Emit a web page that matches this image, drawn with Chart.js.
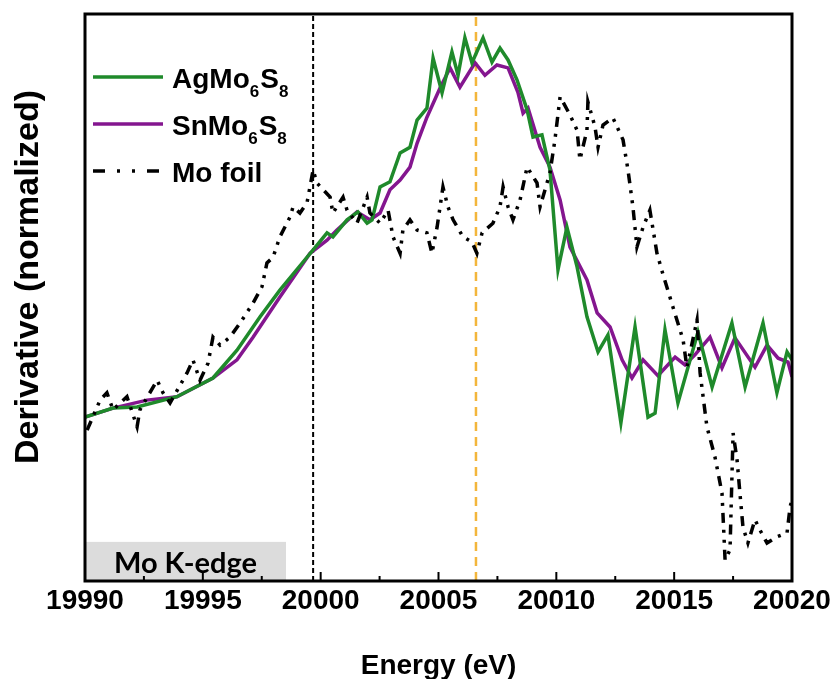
<!DOCTYPE html>
<html>
<head>
<meta charset="utf-8">
<title>Mo K-edge derivative</title>
<script src="https://cdn.jsdelivr.net/npm/chart.js@4/dist/chart.umd.min.js"></script>
<style>
  html, body { margin: 0; padding: 0; background: #fff; }
  #wrap { width: 835px; height: 679px; }
</style>
</head>
<body>
<div id="wrap"><canvas id="chart" width="835" height="679"></canvas></div>
<script>
// ── data (energy in eV, derivative normalized 0–1) ──
const agEnergy = [19990.00, 19991.19, 19992.21, 19993.90, 19995.43, 19996.45, 19997.43, 19998.27, 19999.42, 19999.68,
  20000.27, 20000.52, 20001.12, 20001.58, 20001.97, 20002.18, 20002.52, 20002.94, 20003.37, 20003.79,
  20004.09, 20004.51, 20004.77, 20005.15, 20005.57, 20005.83, 20006.12, 20006.42, 20006.89, 20007.27,
  20007.61, 20007.95, 20008.33, 20008.76, 20009.01, 20009.39, 20009.73, 20010.07, 20010.45, 20010.88,
  20011.30, 20011.77, 20012.19, 20012.74, 20013.34, 20013.89, 20014.19, 20014.61, 20015.16, 20016.01,
  20016.61, 20017.45, 20018.01, 20018.77, 20019.36, 20019.79, 20020.00];
const agDeriv = [0.289, 0.305, 0.307, 0.325, 0.358, 0.407, 0.466, 0.513, 0.571, 0.584,
  0.614, 0.607, 0.637, 0.651, 0.631, 0.637, 0.695, 0.704, 0.755, 0.765,
  0.813, 0.834, 0.922, 0.861, 0.933, 0.892, 0.958, 0.914, 0.958, 0.915,
  0.940, 0.919, 0.884, 0.831, 0.783, 0.787, 0.725, 0.549, 0.624, 0.554,
  0.466, 0.404, 0.434, 0.279, 0.448, 0.289, 0.296, 0.443, 0.314, 0.439,
  0.342, 0.455, 0.342, 0.455, 0.332, 0.404, 0.390];

const snEnergy = [19990.00, 19991.19, 19992.63, 19993.90, 19995.43, 19996.45, 19997.13, 19998.27, 19999.55, 20000.27,
  20000.69, 20001.54, 20002.09, 20002.52, 20002.94, 20003.37, 20003.79, 20004.09, 20004.51, 20005.06,
  20005.49, 20005.91, 20006.55, 20006.97, 20007.48, 20007.95, 20008.37, 20008.59, 20008.80, 20009.31,
  20009.73, 20010.16, 20010.58, 20011.30, 20011.73, 20012.28, 20012.79, 20013.21, 20013.68, 20014.31,
  20015.04, 20015.46, 20015.88, 20016.52, 20017.03, 20017.58, 20018.43, 20018.94, 20019.41, 20019.83,
  20020.00];
const snDeriv = [0.289, 0.305, 0.319, 0.325, 0.358, 0.390, 0.430, 0.501, 0.578, 0.601,
  0.619, 0.651, 0.637, 0.649, 0.690, 0.707, 0.730, 0.772, 0.818, 0.869,
  0.905, 0.871, 0.914, 0.892, 0.910, 0.905, 0.862, 0.825, 0.834, 0.765,
  0.730, 0.672, 0.589, 0.531, 0.473, 0.448, 0.390, 0.358, 0.390, 0.362,
  0.395, 0.381, 0.399, 0.430, 0.376, 0.429, 0.377, 0.416, 0.393, 0.386,
  0.360];

const moEnergy = [19990.09, 19990.64, 19990.93, 19991.19, 19991.78, 19992.21, 19992.33, 19993.06, 19993.31, 19993.61,
  19994.33, 19994.58, 19994.88, 19995.22, 19995.43, 19995.73, 19996.15, 19996.58, 19997.13, 19997.51,
  19997.72, 19997.98, 19998.27, 19998.70, 19998.83, 19999.12, 19999.42, 19999.68, 19999.84, 20000.40,
  20000.52, 20000.95, 20001.12, 20001.54, 20001.97, 20002.09, 20002.52, 20002.86, 20003.07, 20003.37,
  20003.49, 20003.79, 20004.09, 20004.51, 20004.72, 20004.94, 20005.19, 20005.40, 20005.62, 20006.04,
  20006.42, 20006.63, 20006.85, 20007.31, 20007.61, 20007.74, 20007.95, 20008.16, 20008.46, 20008.76,
  20009.18, 20009.31, 20009.73, 20009.94, 20010.16, 20010.58, 20010.88, 20011.00, 20011.30, 20011.34,
  20011.64, 20011.77, 20011.98, 20012.40, 20012.83, 20013.04, 20013.25, 20013.42, 20013.68, 20013.97,
  20014.27, 20014.53, 20014.95, 20015.38, 20015.54, 20015.97, 20016.10, 20016.39, 20016.73, 20017.03,
  20017.16, 20017.37, 20017.50, 20017.67, 20017.79, 20017.92, 20018.13, 20018.43, 20018.64, 20018.94,
  20019.36, 20019.79, 20019.92, 20020.00];
const moDeriv = [0.266, 0.319, 0.332, 0.302, 0.325, 0.272, 0.302, 0.354, 0.332, 0.314,
  0.367, 0.390, 0.354, 0.384, 0.430, 0.416, 0.430, 0.455, 0.490, 0.519,
  0.561, 0.571, 0.607, 0.642, 0.660, 0.649, 0.667, 0.725, 0.702, 0.677,
  0.649, 0.677, 0.654, 0.631, 0.677, 0.649, 0.631, 0.654, 0.607, 0.578,
  0.619, 0.637, 0.619, 0.614, 0.578, 0.624, 0.695, 0.660, 0.637, 0.607,
  0.598, 0.578, 0.614, 0.631, 0.660, 0.695, 0.660, 0.637, 0.672, 0.730,
  0.702, 0.660, 0.720, 0.778, 0.854, 0.822, 0.795, 0.743, 0.795, 0.845,
  0.801, 0.765, 0.804, 0.817, 0.778, 0.725, 0.660, 0.589, 0.624, 0.654,
  0.578, 0.540, 0.483, 0.425, 0.377, 0.460, 0.367, 0.272, 0.219, 0.155,
  0.037, 0.055, 0.261, 0.213, 0.155, 0.095, 0.067, 0.108, 0.090, 0.067,
  0.078, 0.085, 0.131, 0.143];

const moEdgeE   = 19999.68;   // black dashed marker
const peakE     = 20006.59;   // orange dashed marker
const xTicks    = [19990, 19995, 20000, 20005, 20010, 20015, 20020];
const xMinor    = [19992.5, 19997.5, 20002.5, 20007.5, 20012.5, 20017.5];
const edgeBox   = [19990, 19998.53, 0.069];   // x0, x1, top (data units)

const GREEN  = '#1f8a2b';
const PURPLE = '#84168f';
const ORANGE = '#f3b63b';
const FONT   = '"Liberation Sans", Arial, sans-serif';

const toXY = (xs, ys) => xs.map((x, i) => ({ x, y: ys[i] }));

// legend rows: [text parts (even = normal, odd = subscript), colour, dash]
const legendRows = [
  [['AgMo', '6', 'S', '8'], GREEN, []],
  [['SnMo', '6', 'S', '8'], PURPLE, []],
  [['Mo foil'], '#000', [12, 12, 3, 12, 3, 12]],
];

const decorPlugin = {
  id: 'decor',
  beforeDatasetsDraw(chart) {
    const { ctx, scales: { x, y } } = chart;
    const x0 = x.getPixelForValue(edgeBox[0]);
    const x1 = x.getPixelForValue(edgeBox[1]);
    const y0 = y.getPixelForValue(edgeBox[2]);
    const y1 = y.getPixelForValue(0);
    ctx.save();
    ctx.fillStyle = '#dcdcdc';
    ctx.fillRect(x0, y0, x1 - x0, y1 - y0);
    ctx.fillStyle = '#000';
    ctx.font = 'bold 29px Lato, sans-serif';
    ctx.textAlign = 'center';
    ctx.textBaseline = 'alphabetic';
    ctx.fillText('Mo K-edge', (x0 + x1) / 2, y1 - 8);
    ctx.restore();
  },
  afterDraw(chart) {
    const { ctx, chartArea: a, scales: { x } } = chart;
    ctx.save();

    // frame
    ctx.strokeStyle = '#000';
    ctx.lineWidth = 3;
    ctx.strokeRect(a.left, a.top, a.right - a.left, a.bottom - a.top);

    // inward ticks on the bottom axis
    ctx.lineWidth = 2;
    const tick = (v, len) => {
      const px = x.getPixelForValue(v);
      ctx.beginPath();
      ctx.moveTo(px, a.bottom);
      ctx.lineTo(px, a.bottom - len);
      ctx.stroke();
    };
    xTicks.forEach(v => tick(v, 9));
    xMinor.forEach(v => tick(v, 5));

    // legend with subscripts
    legendRows.forEach(([parts, color, dash], i) => {
      const ly = a.top + 63 + i * 47;
      ctx.strokeStyle = color;
      ctx.lineWidth = 3.5;
      ctx.setLineDash(dash);
      ctx.beginPath();
      ctx.moveTo(a.left + 8, ly);
      ctx.lineTo(a.left + 78, ly);
      ctx.stroke();
      ctx.setLineDash([]);
      let tx = a.left + 87;
      const base = ly + 11;
      ctx.fillStyle = '#000';
      ctx.textAlign = 'left';
      ctx.textBaseline = 'alphabetic';
      parts.forEach((p, j) => {
        const sub = j % 2 === 1;
        ctx.font = sub ? `bold 17px ${FONT}` : `bold 28px ${FONT}`;
        ctx.fillText(p, tx, sub ? base + 9 : base);
        tx += ctx.measureText(p).width + (sub ? 1 : 0);
      });
    });

    // y axis title
    ctx.translate(29, 277);
    ctx.rotate(-Math.PI / 2);
    ctx.font = `bold 34px ${FONT}`;
    ctx.textAlign = 'center';
    ctx.textBaseline = 'middle';
    ctx.fillText('Derivative (normalized)', 0, 0);
    ctx.restore();
  }
};

const lineStyle = { pointRadius: 0, tension: 0, fill: false };

new Chart(document.getElementById('chart'), {
  type: 'line',
  data: {
    datasets: [
      { label: 'Mo foil', data: toXY(moEnergy, moDeriv), borderColor: '#000', borderWidth: 3.5,
        borderDash: [10, 7, 3, 7, 3, 7], ...lineStyle },
      { label: 'AgMo6S8', data: toXY(agEnergy, agDeriv), borderColor: GREEN, borderWidth: 3.5, ...lineStyle },
      { label: 'SnMo6S8', data: toXY(snEnergy, snDeriv), borderColor: PURPLE, borderWidth: 3.5, ...lineStyle },
      { label: 'edge', data: [{ x: moEdgeE, y: 0 }, { x: moEdgeE, y: 1 }], borderColor: '#000',
        borderWidth: 2, borderDash: [5, 3], ...lineStyle },
      { label: 'peak', data: [{ x: peakE, y: 0 }, { x: peakE, y: 1 }], borderColor: ORANGE,
        borderWidth: 2.5, borderDash: [9, 6], ...lineStyle },
    ]
  },
  options: {
    responsive: false,
    animation: false,
    devicePixelRatio: 1,
    layout: { padding: { top: 14, right: 43, bottom: 0, left: 0 } },
    plugins: { legend: { display: false }, tooltip: { enabled: false } },
    scales: {
      x: {
        type: 'linear',
        min: 19990, max: 20020,
        grid: { display: false, drawTicks: false },
        border: { display: false },
        afterBuildTicks: s => { s.ticks = xTicks.map(v => ({ value: v })); },
        afterFit: s => { s.height = 98; },
        ticks: {
          color: '#000', padding: 3,
          font: { family: FONT, size: 28, weight: 'bold' },
          callback: v => String(v)
        },
        title: {
          display: true, text: 'Energy (eV)', color: '#000',
          font: { family: FONT, size: 28, weight: 'bold', lineHeight: 1 },
          padding: { top: 0, bottom: -1 }
        }
      },
      y: {
        min: 0, max: 1,
        grid: { display: false, drawTicks: false },
        border: { display: false },
        ticks: { display: false },
        afterFit: s => { s.width = 85; }
      }
    }
  },
  plugins: [decorPlugin]
});
</script>
</body>
</html>
